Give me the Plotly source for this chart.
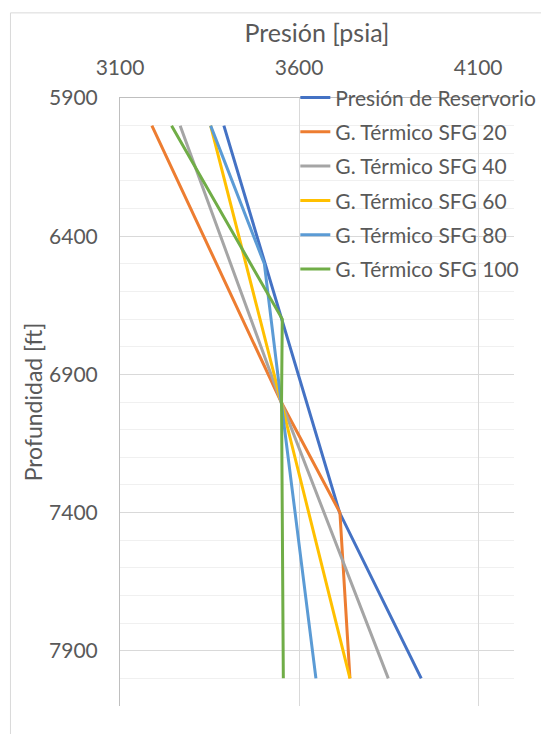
import plotly.graph_objects as go

# ---- data ----
series_names = [
    "Presión de Reservorio",
    "G. Térmico SFG 20",
    "G. Térmico SFG 40",
    "G. Térmico SFG 60",
    "G. Térmico SFG 80",
    "G. Térmico SFG 100",
]
series_colors = ["#4472C4", "#ED7D31", "#A5A5A5", "#FFC000", "#5B9BD5", "#70AD47"]

res_depth = [6000, 7400, 8000]
res_press = [3390, 3713, 3941]

sfg20_depth = [6000, 7000, 7400, 8000]
sfg20_press = [3189, 3550, 3714, 3742]

sfg40_depth = [6000, 7000, 8000]
sfg40_press = [3268, 3550, 3849]

sfg60_depth = [6000, 7000, 8000]
sfg60_press = [3353, 3550, 3742]

sfg80_depth = [6000, 6500, 7000, 8000]
sfg80_press = [3353, 3503, 3550, 3647]

sfg100_depth = [6000, 6700, 7000, 8000]
sfg100_press = [3244, 3553, 3551, 3556]

x_tickvals = [3100, 3600, 4100]
y_tickvals = [5900, 6400, 6900, 7400, 7900]

all_depths = [res_depth, sfg20_depth, sfg40_depth, sfg60_depth, sfg80_depth, sfg100_depth]
all_press = [res_press, sfg20_press, sfg40_press, sfg60_press, sfg80_press, sfg100_press]

FONT = "Lato"
TXT = "#595959"

fig = go.Figure()
for i, (name, col, d, p) in enumerate(zip(series_names, series_colors, all_depths, all_press)):
    fig.add_trace(go.Scatter(
        x=p, y=d, mode="lines", name=name,
        line=dict(color=col, width=3),
        legendgroup="g%d" % i,
    ))

fig.update_layout(
    template="none",
    width=541, height=726,
    margin=dict(l=112, r=35, t=90, b=28, pad=0, autoexpand=False),
    paper_bgcolor="white", plot_bgcolor="white",
    font=dict(family=FONT, size=21, color=TXT),
    showlegend=True,
    legend=dict(
        x=0.445, y=1.034, xanchor="left", yanchor="top",
        bgcolor="rgba(0,0,0,0)", borderwidth=0,
        font=dict(family=FONT, size=21, color=TXT),
        tracegroupgap=4,
    ),
    xaxis=dict(
        side="top", range=[3100, 4200], tickvals=x_tickvals,
        showgrid=True, gridcolor="#D9D9D9", gridwidth=1,
        showline=True, linecolor="#BFBFBF", linewidth=1,
        zeroline=False, ticks="", ticklabelstandoff=14, automargin=False,
        tickfont=dict(family=FONT, size=21, color=TXT),
        title=dict(text="Presión [psia]", standoff=3,
                   font=dict(family=FONT, size=25, color=TXT)),
    ),
    yaxis=dict(
        range=[8100, 5900], tickvals=y_tickvals,
        showgrid=True, gridcolor="#D9D9D9", gridwidth=1,
        minor=dict(dtick=100, tick0=5900, showgrid=True, gridcolor="#F0F0F0", gridwidth=1),
        showline=True, linecolor="#BFBFBF", linewidth=1,
        zeroline=False, ticks="", ticklabelstandoff=17, automargin=False,
        tickfont=dict(family=FONT, size=21, color=TXT),
        title=dict(text="Profundidad [ft]", standoff=0,
                   font=dict(family=FONT, size=23, color=TXT)),
    ),
    shapes=[dict(type="rect", xref="paper", yref="paper",
                 x0=-0.278, x1=1.2, y0=-0.1, y1=1.140,
                 line=dict(color="#D9D9D9", width=1), layer="below")],
)

fig.write_html("out.html")
